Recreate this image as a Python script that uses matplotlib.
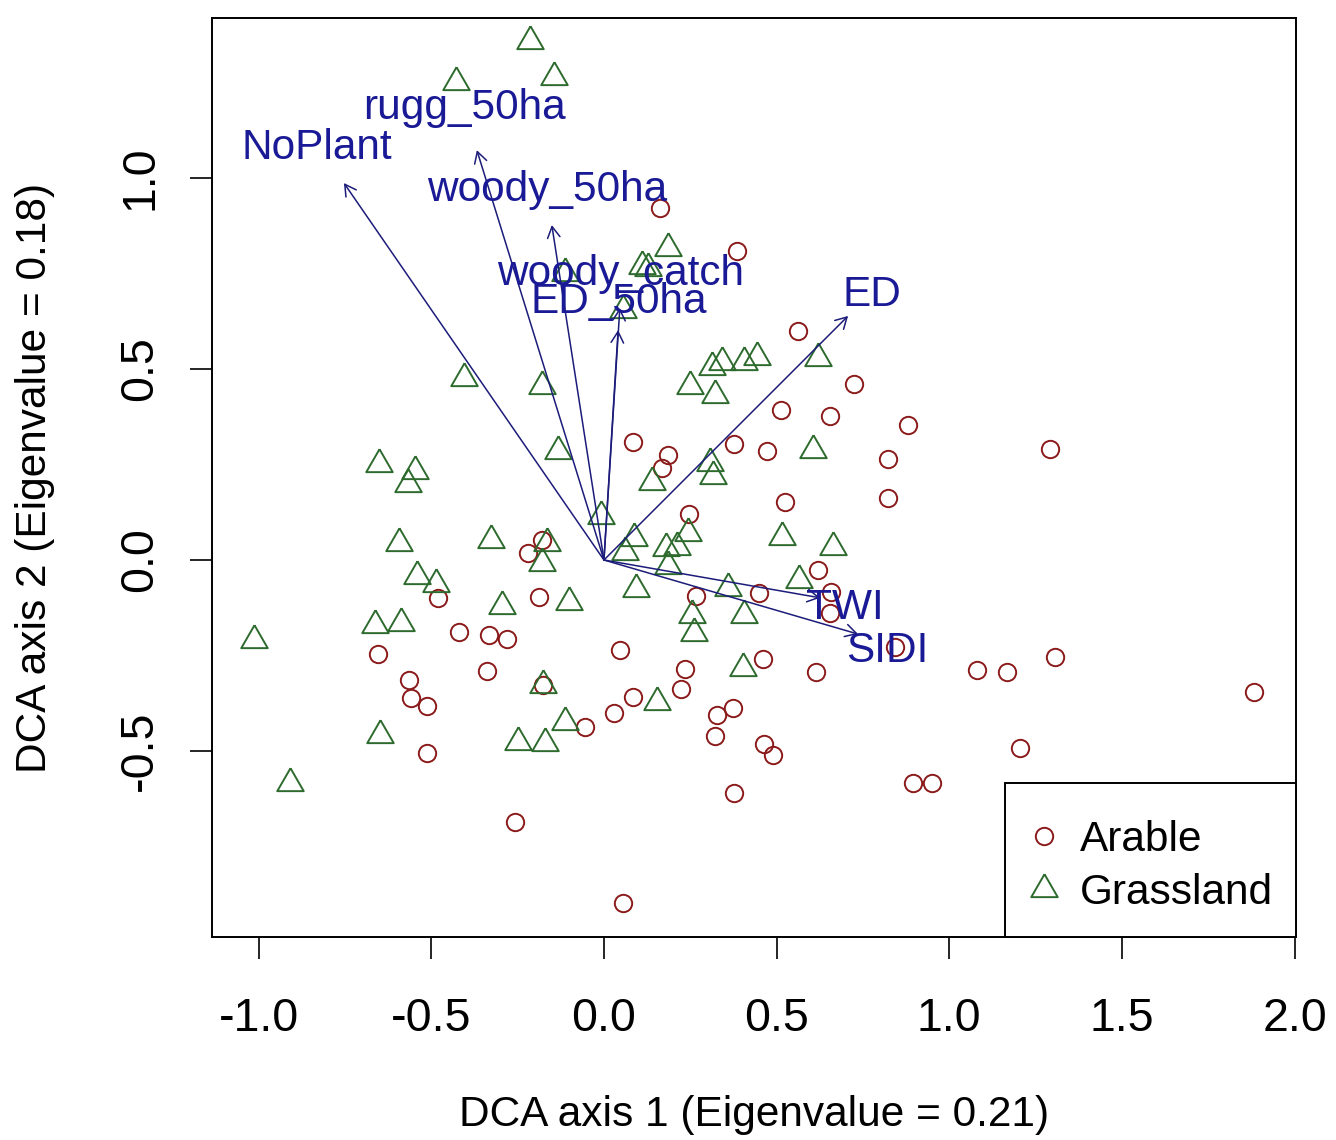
import matplotlib
matplotlib.use("Agg")
import matplotlib.pyplot as plt
from matplotlib.lines import Line2D
from matplotlib.patches import Rectangle

plt.rcParams['font.family'] = ['Liberation Sans', 'DejaVu Sans']

# site scores, arable
arable_x = [0.162, 0.385, 0.562, 0.724, 0.513, 0.654, 0.880, 0.084, 0.376, 0.472,
            0.185, 0.168, 0.822, 0.822, 0.524, 1.292, 0.246, -0.180, -0.220, -0.481,
            -0.188, 0.266, 0.449, 0.620, 0.657, 0.654, -0.420, -0.333, -0.281, 0.843,
            0.046, -0.654, -0.339, 0.235, 0.460, 0.614, 1.080, 1.167, 1.306, -0.565,
            -0.177, 0.223, 1.882, -0.559, -0.513, 0.084, 0.029, -0.055, 0.327, 0.374,
            0.321, -0.513, 0.463, 0.489, 1.205, 0.895, 0.950, 0.376, -0.258, 0.055]
arable_y = [0.921, 0.809, 0.599, 0.461, 0.393, 0.377, 0.353, 0.309, 0.304, 0.285,
            0.275, 0.241, 0.264, 0.162, 0.152, 0.291, 0.120, 0.052, 0.018, -0.099,
            -0.097, -0.094, -0.086, -0.026, -0.084, -0.139, -0.188, -0.196, -0.207, -0.228,
            -0.236, -0.246, -0.291, -0.285, -0.259, -0.293, -0.288, -0.293, -0.254, -0.314,
            -0.327, -0.338, -0.346, -0.361, -0.382, -0.359, -0.401, -0.437, -0.406, -0.387,
            -0.461, -0.505, -0.482, -0.510, -0.492, -0.584, -0.584, -0.610, -0.686, -0.898]

# site scores, grassland
grass_x = [-0.214, -0.429, -0.145, 0.185, 0.110, 0.127, -0.113, 0.055, -0.405, -0.180,
           0.313, 0.342, 0.405, 0.443, 0.620, 0.249, 0.321, -0.133, 0.605, 0.139,
           0.307, 0.316, -0.652, -0.547, -0.568, -0.009, -0.594, -0.327, -0.165, -0.180,
           0.087, 0.061, 0.180, 0.211, 0.185, 0.243, 0.515, 0.663, -0.542, -0.487,
           0.093, 0.359, 0.565, -0.295, -0.101, 0.255, 0.405, 0.261, -1.014, -0.663,
           -0.588, -0.177, 0.403, 0.153, -0.113, -0.649, -0.249, -0.171, -0.909]
grass_y = [1.359, 1.251, 1.264, 0.817, 0.770, 0.764, 0.751, 0.654, 0.476, 0.455,
           0.505, 0.518, 0.518, 0.531, 0.529, 0.455, 0.432, 0.285, 0.288, 0.204,
           0.254, 0.220, 0.251, 0.233, 0.199, 0.115, 0.045, 0.052, 0.045, -0.008,
           0.058, 0.021, 0.031, 0.034, -0.016, 0.071, 0.060, 0.034, -0.042, -0.063,
           -0.076, -0.073, -0.052, -0.120, -0.110, -0.144, -0.144, -0.191, -0.209, -0.170,
           -0.165, -0.327, -0.283, -0.372, -0.424, -0.458, -0.476, -0.479, -0.584]

# fitted environmental vectors
env_names = ["NoPlant", "rugg_50ha", "woody_50ha", "woody_catch", "ED_50ha", "ED", "TWI", "SIDI"]
env_x = [-0.753, -0.368, -0.151, 0.046, 0.041, 0.707, 0.626, 0.736]
env_y = [0.987, 1.073, 0.877, 0.660, 0.602, 0.639, -0.099, -0.194]
lab_x = [-0.831, -0.405, -0.165, 0.049, 0.043, 0.776, 0.698, 0.820]
lab_y = [1.079, 1.183, 0.969, 0.749, 0.675, 0.694, -0.126, -0.238]

xticks = [-1.0, -0.5, 0.0, 0.5, 1.0, 1.5, 2.0]
yticks = [-0.5, 0.0, 0.5, 1.0]

red = '#8b1a1a'
green = '#2d6a2d'
navy = '#1c1c7a'
blue = '#1a1a96'
fs = 30.5

tri = [(0, 1.555), (1.347, -0.778), (-1.347, -0.778), (0, 1.555)]

fig = plt.figure(figsize=(13.36, 11.4), dpi=100)
ax = fig.add_axes([212 / 1336, 1 - 937 / 1140, (1296 - 212) / 1336, (937 - 18) / 1140])

ax.plot(arable_x, arable_y, 'o', ls='none', ms=12.5, mfc='none', mec=red, mew=1.4)
ax.plot(grass_x, grass_y, marker=tri, ls='none', ms=22, mfc='none', mec=green, mew=1.4)

for name, x, y, lx, ly in zip(env_names, env_x, env_y, lab_x, lab_y):
    ax.annotate('', xy=(x, y), xytext=(0, 0),
                arrowprops=dict(arrowstyle='->,head_length=0.8,head_width=0.45',
                                color=navy, lw=1.1, shrinkA=0, shrinkB=0))
    ax.text(lx, ly, name, color=blue, fontsize=fs, ha='center', va='center')

ax.set_xlim(-1.135, 2.004)
ax.set_ylim(-0.987, 1.419)
ax.set_xticks(xticks)
ax.set_xticklabels(['%.1f' % t for t in xticks])
ax.set_yticks(yticks)
ax.set_yticklabels(['%.1f' % t for t in yticks], rotation=90, va='center')
ax.tick_params(axis='both', labelsize=33.5, length=16, width=1.2, direction='out')
ax.tick_params(axis='x', pad=27)
ax.tick_params(axis='y', pad=20)
for s in ax.spines.values():
    s.set_linewidth(1.4)

ax.set_xlabel('DCA axis 1 (Eigenvalue = 0.21)', fontsize=fs, va='center')
ax.xaxis.set_label_coords(0.5, -0.1937)
ax.set_ylabel('DCA axis 2 (Eigenvalue = 0.18)', fontsize=fs, va='center')
ax.yaxis.set_label_coords(-0.163, 0.5)

# legend box touching the bottom-right corner, as in R's legend("bottomright")
ax.add_patch(Rectangle((0.7315, 0), 0.2685, 0.1676, transform=ax.transAxes,
                       fill=True, facecolor='white', edgecolor='black', lw=1.4,
                       zorder=4, clip_on=False))
handles = [Line2D([], [], marker='o', ls='none', ms=12.5, mfc='none', mec=red, mew=1.4),
           Line2D([], [], marker=tri, ls='none', ms=22, mfc='none', mec=green, mew=1.4)]
leg = ax.legend(handles, ['Arable', 'Grassland'], loc='upper left',
                bbox_to_anchor=(0.7509, 0.1273), fontsize=fs, frameon=False,
                borderaxespad=0, borderpad=0, handlelength=0.85,
                handletextpad=0.42, labelspacing=0.3)
leg.set_zorder(5)

fig.savefig('out.png', dpi=100)
